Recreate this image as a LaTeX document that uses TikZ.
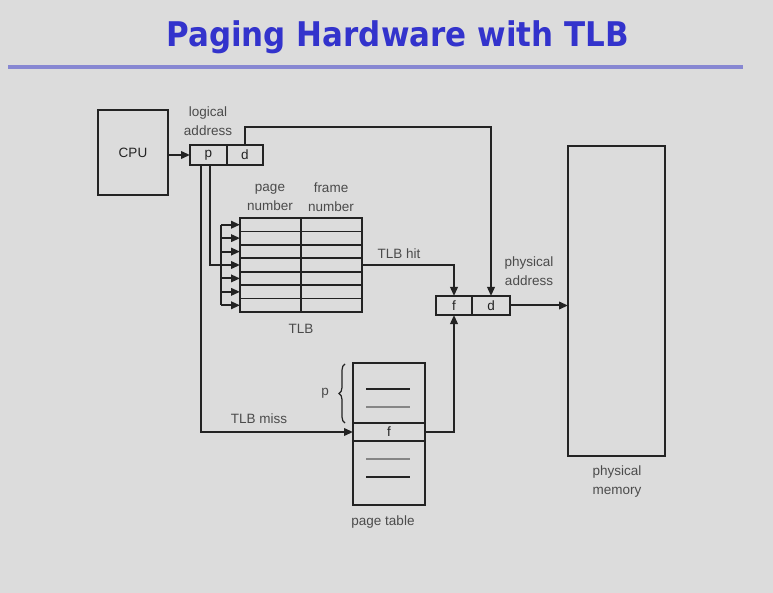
\documentclass[tikz,border=0pt]{standalone}
\usepackage{fontspec}
\setmainfont{Liberation Sans}
\newfontfamily\titlefont{DejaVu Sans}[FakeStretch=0.91]
\usetikzlibrary{arrows.meta,decorations.pathreplacing}
\definecolor{bg}{RGB}{220,220,220}
\definecolor{ink}{RGB}{35,35,35}
\definecolor{lblc}{RGB}{75,75,75}
\definecolor{titleblue}{RGB}{51,51,204}
\definecolor{rulec}{RGB}{135,135,210}
\begin{document}
\begin{tikzpicture}[x=1pt,y=-1pt,
  box/.style={draw=ink,line width=1.8pt,inner sep=0pt,outer sep=0pt,text=ink,
              font=\fontsize{13.5}{16}\selectfont},
  lbl/.style={text=lblc,inner sep=0pt,align=center,font=\fontsize{13.5}{19}\selectfont},
  conn/.style={draw=ink,line width=2pt},
  arr/.style={conn,-{Triangle[length=9pt,width=7.5pt]}}]
\fill[bg] (0,0) rectangle (773,593);
\useasboundingbox (0,0) rectangle (773,593);
% title
\node[font=\titlefont\bfseries\fontsize{34}{40}\selectfont,text=titleblue,anchor=base,inner sep=0pt] (title) at (397.5,47) {Paging Hardware with TLB};
\draw[rulec,line width=3.5pt] (8,67) -- (743,67);
% CPU and logical address
\node[box,minimum width=70pt,minimum height=85pt] (cpu) at (133,152.5) {CPU};
\node[lbl] (lalbl) at (208,121) {logical\\address};
\node[box,minimum width=37pt,minimum height=20pt] (lp) at (208.5,155) {p};
\node[box,minimum width=36pt,minimum height=20pt] (ld) at (245,155) {d};
\draw[arr] (cpu.east |- lp.west) -- (lp.west);
% TLB
\node[box,minimum width=122pt,minimum height=94pt] (tlb) at (301,265) {};
\draw[conn,line width=1.6pt] (tlb.north) -- (tlb.south);
\foreach \i in {1,...,6}
  \draw[conn,line width=1.6pt] ([yshift={-\i*13.4286}]tlb.north west) -- ([yshift={-\i*13.4286}]tlb.north east);
\node[lbl] (pnl) at (270,197) {page\\number};
\node[lbl] (fnl) at (331,197) {frame\\number};
\node[lbl] (tlbl) at (301,329) {TLB};
% physical address
\node[box,minimum width=36pt,minimum height=19pt] (pf) at (454,305.5) {f};
\node[box,minimum width=38pt,minimum height=19pt] (pd) at (491,305.5) {d};
\node[lbl] (palbl) at (529,271) {physical\\address};
% memory
\node[box,minimum width=97pt,minimum height=310pt] (mem) at (616.5,301) {};
\node[lbl] (memlbl) at (617,482) {physical\\memory};
% page table
\node[box,minimum width=72pt,minimum height=142pt] (pt) at (389,434) {};
\node[box,minimum width=72pt,minimum height=18pt] (ptf) at (389,432) {f};
\node[lbl] (ptlbl) at (383,522) {page table};
\draw[ink,line width=2pt] (366,389) -- (410,389);
\draw[ink!55,line width=1.6pt] (366,407) -- (410,407);
\draw[ink!55,line width=1.6pt] (366,459) -- (410,459);
\draw[ink,line width=2pt] (366,477) -- (410,477);
\draw[ink,line width=1.2pt,decorate,decoration={brace,amplitude=6pt}] (345,423) -- (345,364);
\node[lbl] (plbl) at (325,393) {p};
% connectors
\coordinate (busx) at (221,0);
\foreach \i in {0,...,6}{
  \coordinate (r\i) at ([yshift={-(\i+0.5)*13.4286}]tlb.north west);
  \draw[arr] (busx |- r\i) -- (r\i);
}
\draw[conn] (busx |- r0) -- (busx |- r6);
\draw[conn] ([xshift=1.5pt]lp.south) |- (busx |- tlb.east);
\draw[arr] ([xshift=-7.5pt]lp.south) |- (ptf.west);
\node[lbl] (misslbl) at (259,419) {TLB miss};
\draw[arr] (ld.north) -- ++(0,-18) -| (pd.north);
\draw[arr] (tlb.east) -| (pf.north);
\node[lbl] (hitlbl) at (399,254) {TLB hit};
\draw[arr] (ptf.east) -| (pf.south);
\draw[arr] (pd.east) -- (pd.east -| mem.west);
\end{tikzpicture}
\end{document}
